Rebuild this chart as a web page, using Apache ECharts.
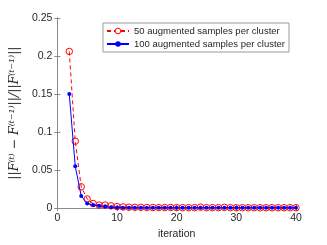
<!DOCTYPE html>
<html><head><meta charset="utf-8">
<script src="https://cdn.jsdelivr.net/npm/echarts@6/dist/echarts.min.js"></script>
<style>html,body{margin:0;padding:0;background:#fff}#c{width:327px;height:245px}</style>
</head><body><div id="c"></div>
<script>
const iterations = [2,3,4,5,6,7,8,9,10,11,12,13,14,15,16,17,18,19,20,21,22,23,24,25,26,27,28,29,30,31,32,33,34,35,36,37,38,39,40];
const red50 = [0.206,0.088,0.028,0.012,0.006,0.004,0.004,0.003,0.002,0.0015,0.0012,0.001,0.001,0.0008,0.0008,0.0007,0.0007,0.0008,0.0007,0.0006,0.0006,0.0006,0.0012,0.0006,0.0006,0.0006,0.0010,0.0006,0.0005,0.0005,0.0005,0.0005,0.0005,0.0005,0.0005,0.0005,0.0005,0.0005,0.0005];
const blue100 = [0.150,0.055,0.016,0.006,0.004,0.003,0.002,0.001,0.0008,0.0006,0.0005,0.0005,0.0004,0.0004,0.0004,0.0004,0.0004,0.0004,0.0004,0.0004,0.0004,0.0004,0.0004,0.0004,0.0004,0.0004,0.0006,0.0004,0.0004,0.0004,0.0004,0.0004,0.0004,0.0004,0.0004,0.0004,0.0004,0.0004,0.0004];
const seriesNames = ['50 augmented samples per cluster','100 augmented samples per cluster'];
const xTicks = [0,10,20,30,40];
const yTicks = [0,0.05,0.1,0.15,0.2,0.25];

const axisCol = '#8a8a8a', txt = '#262626', font = 'Liberation Sans';
const chart = echarts.init(document.getElementById('c'));
const pair = (xs, ys) => xs.map((x,i)=>[x,ys[i]]);
const baseAxis = {
  axisLine:{show:true,lineStyle:{color:axisCol,width:1}},
  axisTick:{show:true,inside:true,length:3,lineStyle:{color:axisCol}},
  splitLine:{show:false}
};
chart.setOption({
  animation:false,
  textStyle:{fontFamily:font},
  grid:{left:42,right:31,top:18,bottom:33,containLabel:false},
  legend:{
    top:23,right:38,orient:'vertical',
    borderColor:'#999',borderWidth:1,padding:[3,4,3,3],itemGap:3,
    itemWidth:22,itemHeight:7,
    textStyle:{fontSize:9.5,color:txt,fontFamily:font},
    data:[{name:seriesNames[0],itemStyle:{borderWidth:1,color:'#fff'}},{name:seriesNames[1]}]
  },
  xAxis:[
    Object.assign({type:'value',min:0,max:40,interval:10,position:'bottom',
      name:'iteration',nameLocation:'middle',nameGap:18,
      nameTextStyle:{fontSize:10.5,color:txt,fontFamily:font},
      axisLabel:{fontSize:10.5,color:txt,margin:5,fontFamily:font}},baseAxis),
    Object.assign({type:'value',min:0,max:40,interval:10,position:'top',axisLabel:{show:false}},baseAxis)
  ],
  yAxis:[
    Object.assign({type:'value',min:0,max:0.25,interval:0.05,position:'left',
      name:'||F⁽ᵗ⁾ − F⁽ᵗ⁻¹⁾||/||F⁽ᵗ⁻¹⁾||',nameLocation:'middle',nameGap:30,nameRotate:90,
      nameTextStyle:{fontSize:12.5,color:txt,fontFamily:'DejaVu Serif',fontStyle:'italic'},
      axisLabel:{fontSize:10.5,color:txt,margin:5,fontFamily:font,
        formatter:v=>String(+v.toFixed(2))}},baseAxis),
    Object.assign({type:'value',min:0,max:0.25,interval:0.05,position:'right',axisLabel:{show:false}},baseAxis)
  ],
  series:[
    {name:seriesNames[0],type:'line',data:pair(iterations,red50),
     symbol:'circle',symbolSize:6.5,
     lineStyle:{color:'#ff0000',width:1,type:[4,3]},
     itemStyle:{color:'rgba(255,255,255,0)',borderColor:'#ff0000',borderWidth:1},z:2},
    {name:seriesNames[1],type:'line',data:pair(iterations,blue100),
     symbol:'circle',symbolSize:4,
     lineStyle:{color:'#0000ff',width:1},
     itemStyle:{color:'#0000ff'},z:3}
  ]
});
</script></body></html>
